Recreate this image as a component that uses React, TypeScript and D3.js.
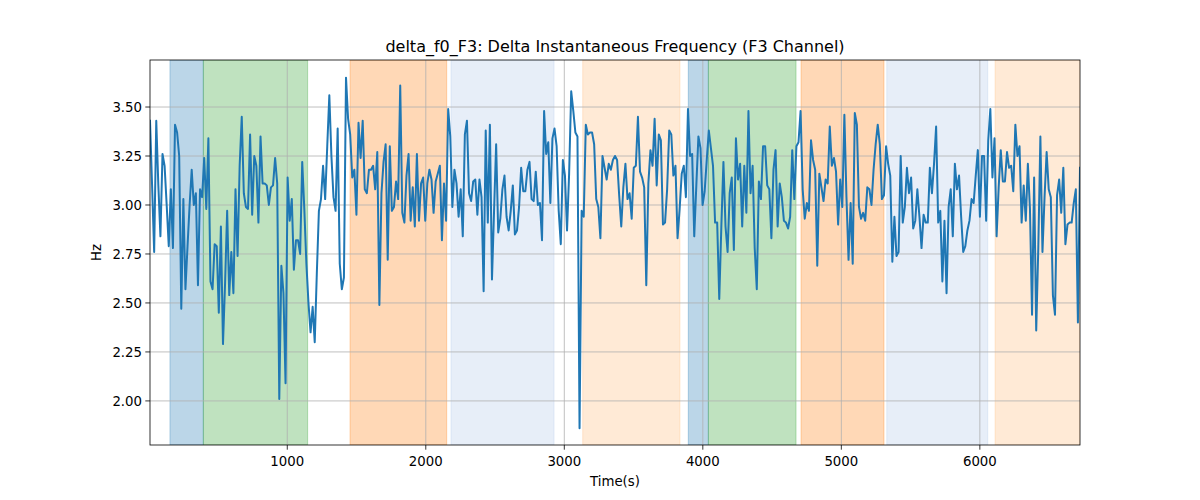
import React from "react";
import * as d3 from "d3";

const TITLE = "delta_f0_F3: Delta Instantaneous Frequency (F3 Channel)";
const X_LABEL = "Time(s)";
const Y_LABEL = "Hz";
const T_START = 9;
const T_END = 6723;
const Y_MIN = 1.775;
const Y_MAX = 3.74;
const X_TICKS = [1000, 2000, 3000, 4000, 5000, 6000];
const Y_TICKS = [2.0, 2.25, 2.5, 2.75, 3.0, 3.25, 3.5];

const segA = [3.43, 3.10, 2.76, 3.43, 3.10, 2.84, 3.26, 3.20, 3.00, 2.79, 3.08, 2.78, 3.41, 3.37, 3.25, 2.47, 3.03, 2.57, 2.79, 3.00, 3.18, 3.00, 3.06, 2.59, 3.08, 3.04, 3.24, 2.98, 3.34, 2.61, 2.57, 2.80, 2.79, 2.45, 2.89, 2.29, 2.60, 2.97, 2.54, 2.76, 2.55, 3.08, 2.74, 3.20, 3.45, 3.06, 2.99, 2.98, 3.36, 2.95, 3.25, 3.20, 2.91, 3.35, 3.11, 3.11, 3.10, 3.00, 3.09, 3.10, 3.24, 3.11, 2.01, 2.69, 2.55, 2.09, 3.14, 2.92, 3.03, 2.67, 2.82, 2.82, 2.75, 3.22];
const segA2 = [2.98, 2.70, 2.50, 2.35, 2.48, 2.30];
const segB = [2.65, 2.97, 3.03, 3.20, 3.03, 3.30, 3.56, 3.25, 3.04, 2.97, 3.39, 2.70, 2.57, 2.63, 3.65, 3.44, 3.36, 3.14, 3.18, 2.95, 3.42, 3.24, 3.43, 3.08, 3.06, 3.18, 3.18, 3.20, 3.08, 3.27, 2.49, 3.06, 3.22, 3.31, 2.72, 3.30, 2.97, 2.99, 3.12, 3.03, 3.61, 2.96, 2.91, 3.15, 3.26, 2.92, 3.09, 2.89, 3.26, 2.92, 3.11, 3.14, 2.92, 3.11, 3.18, 3.13, 2.96, 3.12, 3.16, 3.20, 2.82, 3.11, 2.92, 3.49];
const segC = [3.35, 2.99, 3.18, 3.11, 2.94, 3.08, 2.84, 3.36, 3.43, 3.06, 3.02, 3.12, 3.13, 2.95, 3.13, 3.04, 2.56, 3.38, 2.91, 3.41, 2.62, 2.97, 3.31, 2.86, 2.93, 3.08, 3.15, 2.94, 2.87, 2.97, 3.10, 2.85, 2.87, 2.99, 3.19, 3.07, 3.07, 3.18, 3.22, 3.03, 3.02, 3.17, 3.00, 3.01, 2.82, 3.48, 3.26, 3.32, 3.01, 3.34, 3.39, 3.30, 2.97, 2.80, 3.23, 3.15, 2.87, 3.16, 3.58, 3.48, 3.37, 3.35, 1.86, 2.97, 2.94, 3.41, 3.36, 3.37, 3.37, 3.31, 3.03, 2.99, 2.83];
const segD = [3.25, 3.19, 3.13, 3.21, 3.18, 3.23, 3.25, 3.23, 3.05, 2.89, 3.09, 3.21, 3.03, 3.06, 2.93, 3.19, 3.20, 3.45, 3.17, 3.14, 3.09, 2.59, 3.11, 3.28, 3.20, 3.44, 3.10, 3.36, 3.33, 2.90, 2.91, 3.08, 3.38, 3.36, 3.15, 3.20, 2.83, 2.98, 3.16, 3.20, 3.04, 3.49, 3.25, 3.26, 2.84, 3.10, 3.35, 3.29, 3.00, 3.07, 3.23, 3.38, 3.29, 3.20, 2.91, 2.91, 2.52, 2.89, 3.22, 2.89, 2.76, 3.06, 3.14, 2.77, 3.34, 3.13, 3.21, 2.89, 3.20, 2.96, 3.48];
const segE = [3.06, 3.20, 2.78, 2.57, 3.12, 3.03, 3.30, 3.30, 3.10, 3.08, 2.83, 3.18, 3.28, 2.89, 3.11, 3.04, 2.92, 2.91, 2.88, 2.94, 3.28, 3.03, 3.30, 3.32, 3.48, 3.08, 2.93, 3.01, 2.97, 3.33, 3.23, 3.18, 2.69, 3.16, 3.09, 3.02, 3.13, 3.11, 3.40, 3.20, 3.24, 3.17, 2.90, 3.13, 2.99, 3.46, 3.04, 2.72, 3.01, 2.70, 3.47, 3.41, 2.99, 2.93, 2.96, 2.92, 3.09, 3.08, 3.00, 3.18, 3.31, 3.41, 3.31, 3.03, 3.05, 3.30, 3.21, 3.15, 2.71, 2.94, 2.74, 2.76, 3.25];
const segF = [2.91, 2.99, 3.19, 3.06, 3.14, 2.88, 2.92, 3.08, 2.94, 2.78, 2.95, 2.91, 2.91, 3.19, 3.06, 3.21, 3.40, 2.91, 2.97, 2.61, 2.92, 2.55, 2.99, 3.08, 2.84, 3.21, 3.08, 3.15, 2.94, 2.76, 2.79, 2.87, 2.92, 3.03, 3.01, 3.15, 3.28, 2.94, 3.25, 3.25, 2.92, 3.33, 3.49, 3.14, 3.34, 2.84, 3.09, 3.28, 3.12, 3.12, 3.27, 3.19, 3.20, 3.07, 3.41, 3.25, 3.30, 2.91, 3.10, 2.92, 3.21, 2.98, 2.44, 3.14, 2.36, 2.78, 3.35, 2.76, 3.04, 3.27, 3.08, 3.04, 2.54, 2.44, 3.05, 3.13, 2.96, 3.19, 2.80, 2.90, 2.91, 2.91, 3.01, 3.08, 2.40, 3.19];

const spanStarts = [153, 394, 1453, 2182, 3133, 3895, 4040, 4709, 5328, 6110];
const spanEnds = [394, 1147, 2151, 2926, 3835, 4040, 4673, 5308, 6057, 6723];
const spanColors = ["#1f77b4", "#2ca02c", "#ff7f0e", "#aec7e8", "#ffbb78", "#1f77b4", "#2ca02c", "#ff7f0e", "#aec7e8", "#ffbb78"];

const values = [...segA, ...segA2, ...segB, ...segC, ...segD, ...segE, ...segF];

const W = 1200, H = 500;
const M = { left: 150, right: 1080, top: 60, bottom: 445 };
const FONT = "DejaVu Sans, sans-serif";

export default function App() {
  const x = d3.scaleLinear().domain([T_START, T_END]).range([M.left, M.right]);
  const y = d3.scaleLinear().domain([Y_MIN, Y_MAX]).range([M.bottom, M.top]);
  const n = values.length;
  const step = (T_END - T_START) / (n - 1);
  const pts: [number, number][] = values.map((v, i) => [T_START + i * step, v]);
  const line = d3.line<[number, number]>().x(d => x(d[0])).y(d => y(d[1]));

  return (
    <svg width={W} height={H} style={{ position: "absolute", left: 0, top: 0, background: "#fff" }} fontFamily={FONT}>
      <rect x={0} y={0} width={W} height={H} fill="#fff" />
      <defs>
        <clipPath id="plot">
          <rect x={M.left} y={M.top} width={M.right - M.left} height={M.bottom - M.top} />
        </clipPath>
      </defs>
      <g clipPath="url(#plot)">
        {spanStarts.map((s, i) => (
          <rect key={i} x={x(s)} y={M.top} width={x(spanEnds[i]) - x(s)} height={M.bottom - M.top}
            fill={spanColors[i]} fillOpacity={0.3} stroke={spanColors[i]} strokeOpacity={0.3} strokeWidth={1} />
        ))}
      </g>
      {X_TICKS.map(t => (
        <line key={"gx" + t} x1={x(t)} x2={x(t)} y1={M.top} y2={M.bottom} stroke="#b0b0b0" strokeWidth={0.8} />
      ))}
      {Y_TICKS.map(t => (
        <line key={"gy" + t} x1={M.left} x2={M.right} y1={y(t)} y2={y(t)} stroke="#b0b0b0" strokeWidth={0.8} />
      ))}
      <g clipPath="url(#plot)">
        <path d={line(pts) || ""} fill="none" stroke="#1f77b4" strokeWidth={2} strokeLinejoin="round" strokeLinecap="square" />
      </g>
      <rect x={M.left} y={M.top} width={M.right - M.left} height={M.bottom - M.top} fill="none" stroke="#000" strokeWidth={0.8} />
      {X_TICKS.map(t => (
        <g key={"tx" + t}>
          <line x1={x(t)} x2={x(t)} y1={M.bottom} y2={M.bottom + 4.7} stroke="#000" strokeWidth={0.8} />
          <text x={x(t)} y={M.bottom + 21} textAnchor="middle" fontSize={13.3} fill="#000">{t}</text>
        </g>
      ))}
      {Y_TICKS.map(t => (
        <g key={"ty" + t}>
          <line x1={M.left - 4.7} x2={M.left} y1={y(t)} y2={y(t)} stroke="#000" strokeWidth={0.8} />
          <text x={M.left - 8} y={y(t)} dy="0.35em" textAnchor="end" fontSize={13.3} fill="#000">{t.toFixed(2)}</text>
        </g>
      ))}
      <text x={(M.left + M.right) / 2} y={486} textAnchor="middle" fontSize={13.3} fill="#000">{X_LABEL}</text>
      <text transform={`translate(101, ${(M.top + M.bottom) / 2}) rotate(-90)`} textAnchor="middle" fontSize={13.3} fill="#000">{Y_LABEL}</text>
      <text x={(M.left + M.right) / 2} y={52} textAnchor="middle" fontSize={16} fill="#000">{TITLE}</text>
    </svg>
  );
}
